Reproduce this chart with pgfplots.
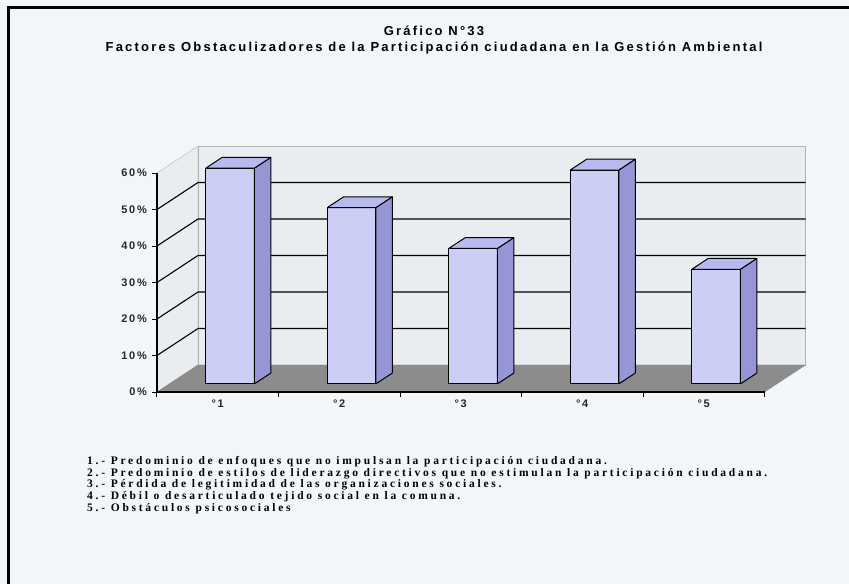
\documentclass[border=0pt]{standalone}
\usepackage{fontspec}
\setmainfont{Liberation Serif}
\newfontfamily\tituloFont{Liberation Sans}[LetterSpace=17]
\newfontfamily\ejeFont{Liberation Sans}[LetterSpace=15]
\newfontfamily\leyendaFont{Liberation Serif}[LetterSpace=24]
\usepackage{pgfplots}
\pgfplotsset{compat=1.18}
\pgfdeclarelayer{background}
\pgfsetlayers{background,main}

\definecolor{fondo}{RGB}{243,246,248}
\definecolor{pared}{RGB}{234,237,239}
\definecolor{piso}{RGB}{140,140,140}
\definecolor{barfront}{RGB}{204,206,246}
\definecolor{barside}{RGB}{150,150,214}
\definecolor{bartop}{RGB}{184,186,238}

% one 3D column: #1 category, #2 value in %
\newcommand\barra[2]{%
  \pgfmathsetmacro\xl{#1-0.2}%
  \pgfmathsetmacro\xr{#1+0.2}%
  \edef\tmp{%
    \noexpand\addplot3[fill=barfront,draw=black,line width=1bp,line join=round] coordinates
      {(\xl,0.3,0) (\xr,0.3,0) (\xr,0.3,#2) (\xl,0.3,#2) (\xl,0.3,0)};
    \noexpand\addplot3[fill=barside,draw=black,line width=1bp,line join=round] coordinates
      {(\xr,0.3,0) (\xr,0.7,0) (\xr,0.7,#2) (\xr,0.3,#2) (\xr,0.3,0)};
    \noexpand\addplot3[fill=bartop,draw=black,line width=1bp,line join=round] coordinates
      {(\xl,0.3,#2) (\xr,0.3,#2) (\xr,0.7,#2) (\xl,0.7,#2) (\xl,0.3,#2)};
  }\tmp}

\begin{document}
\begin{tikzpicture}
\begin{axis}[
  hide axis,
  clip=false,
  no markers,
  x={(121.5bp,0bp)}, y={(41bp,27bp)}, z={(0bp,3.65bp)},
  xmin=0.5, xmax=5.5, ymin=0, ymax=1, zmin=0, zmax=60,
]
% walls and floor
\addplot3[fill=pared,draw=gray!60] coordinates {(0.5,0,0) (0.5,1,0) (0.5,1,60) (0.5,0,60) (0.5,0,0)};
\addplot3[fill=pared,draw=gray!60] coordinates {(0.5,1,0) (5.5,1,0) (5.5,1,60) (0.5,1,60) (0.5,1,0)};
\addplot3[fill=piso,draw=piso] coordinates {(0.5,0,0) (5.5,0,0) (5.5,1,0) (0.5,1,0) (0.5,0,0)};
% grid lines
\pgfplotsinvokeforeach{10,20,30,40,50}{
  \addplot3[black,line width=1.1bp] coordinates {(0.5,0,#1) (0.5,1,#1) (5.5,1,#1)};
}
% axes
\addplot3[black,line width=1.1bp] coordinates {(0.5,0,60) (0.5,0,0) (5.5,0,0)};
\pgfplotsinvokeforeach{0,10,20,30,40,50,60}{
  \addplot3[black,line width=1bp] coordinates {(0.459,0,#1) (0.5,0,#1)};
  \node[anchor=east,inner sep=0pt,font=\ejeFont\bfseries\fontsize{11bp}{12bp}\selectfont,text=black!85]
    at (axis cs:0.5,0,#1) [xshift=-10bp] {#1\%};
}
\pgfplotsinvokeforeach{0.5,1.5,2.5,3.5,4.5,5.5}{
  \addplot3[black,line width=1bp] coordinates {(#1,0,0) (#1,0,-1.4)};
}
\pgfplotsinvokeforeach{1,2,3,4,5}{
  \node[anchor=north,inner sep=0pt,font=\ejeFont\bfseries\fontsize{11bp}{12bp}\selectfont,text=black!85]
    at (axis cs:#1,0,0) [yshift=-8bp] {°#1};
}
% data
\barra{1}{59.1}
\barra{2}{48.3}
\barra{3}{37.1}
\barra{4}{58.6}
\barra{5}{31.4}
\coordinate (O) at (axis cs:0.5,0,0);
\end{axis}

\pgfresetboundingbox
\begin{scope}[shift={(O)}]
\path[use as bounding box] (-157bp,-192bp) rectangle (692bp,392bp);
\begin{pgfonlayer}{background}
\fill[fondo] (-157bp,-192bp) rectangle (692bp,392bp);
\end{pgfonlayer}
\draw[black,line width=3bp] (692bp,384bp) -- (-148bp,384bp) -- (-148bp,-192bp);
\node[anchor=base,inner sep=0pt,font=\tituloFont\bfseries\fontsize{13bp}{15bp}\selectfont]
  at (277bp,356bp) {Gráfico N°33};
\node[anchor=base,inner sep=0pt,font=\tituloFont\bfseries\fontsize{13bp}{15bp}\selectfont]
  at (277bp,340bp) {Factores Obstaculizadores de la Participación ciudadana en la Gestión Ambiental};
\begin{scope}[every node/.style={anchor=base west,inner sep=0pt,font=\leyendaFont\bfseries\fontsize{11.5bp}{12bp}\selectfont}]
\node at (-70bp,-72bp) {1.- Predominio de enfoques que no impulsan la participación ciudadana.};
\node at (-70bp,-84bp) {2.- Predominio de estilos de liderazgo directivos que no estimulan la participación ciudadana.};
\node at (-70bp,-95.5bp) {3.- Pérdida de legitimidad de las organizaciones sociales.};
\node at (-70bp,-107bp) {4.- Débil o desarticulado tejido social en la comuna.};
\node at (-70bp,-119bp) {5.- Obstáculos psicosociales};
\end{scope}
\end{scope}
\end{tikzpicture}
\end{document}
